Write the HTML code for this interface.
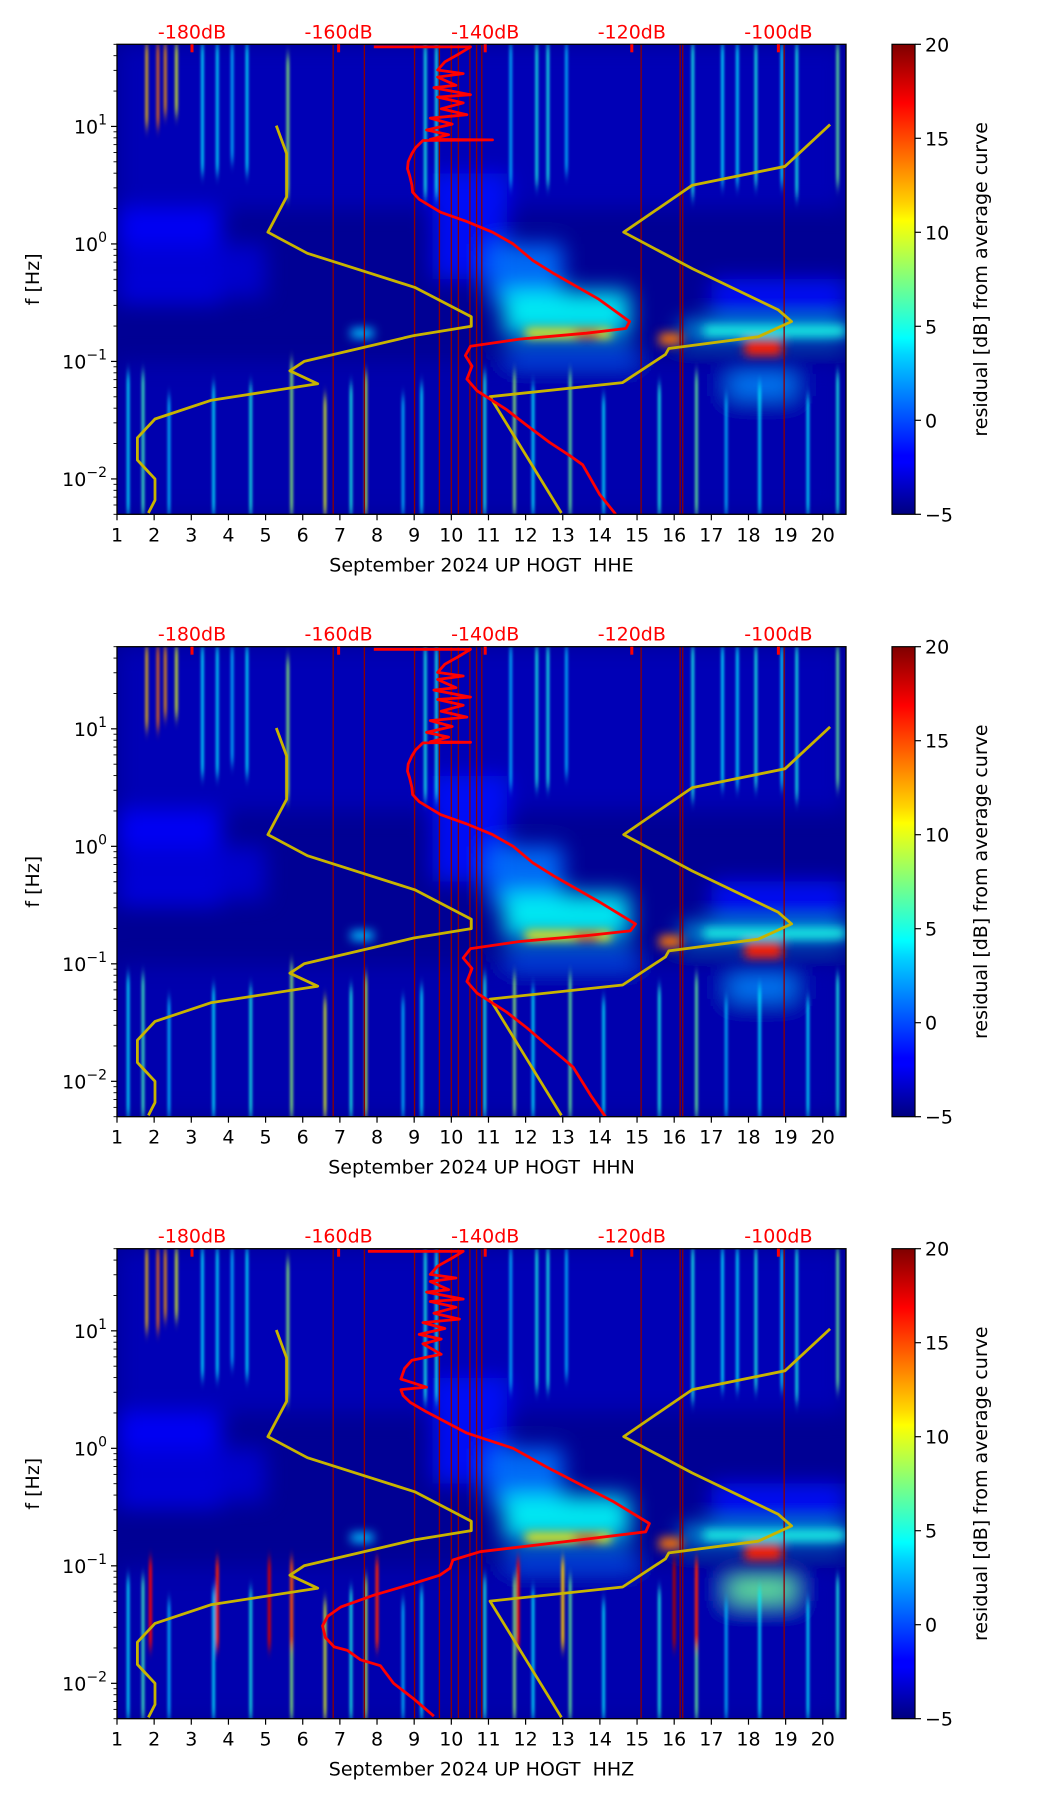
<!DOCTYPE html>
<html><head><meta charset="utf-8">
<style>
html,body{margin:0;padding:0;background:#fff;}
svg{display:block;font-family:"DejaVu Sans","Liberation Sans",sans-serif;}
</style></head>
<body>
<svg id="fig" width="1052" height="1806" viewBox="0 0 1052 1806" xmlns="http://www.w3.org/2000/svg">
<defs>
<filter id="blurBig" x="-50%" y="-50%" width="200%" height="200%"><feGaussianBlur stdDeviation="11"/></filter>
<filter id="blurMid" x="-50%" y="-50%" width="200%" height="200%"><feGaussianBlur stdDeviation="5"/></filter>
<filter id="blurSmall" x="-50%" y="-5%" width="200%" height="110%"><feGaussianBlur stdDeviation="1.2 6"/></filter>
<linearGradient id="jetGrad" x1="0" y1="1" x2="0" y2="0">
<stop offset="0" stop-color="#00007f"/><stop offset="0.11" stop-color="#0000ff"/>
<stop offset="0.125" stop-color="#0000ff"/><stop offset="0.34" stop-color="#00d4ff"/>
<stop offset="0.375" stop-color="#00ffff"/><stop offset="0.5" stop-color="#7fff7f"/>
<stop offset="0.625" stop-color="#ffff00"/><stop offset="0.66" stop-color="#ffd400"/>
<stop offset="0.875" stop-color="#ff0000"/><stop offset="1" stop-color="#7f0000"/>
</linearGradient>
</defs>
</svg>
<script>
// ---- data ----
const dayTicks=[1,2,3,4,5,6,7,8,9,10,11,12,13,14,15,16,17,18,19,20];
const decadeTicks=[-2,-1,0,1];
const cbTicks=[-5,0,5,10,15,20];
const dbLabels=[-180,-160,-140,-120,-100];
const channels=["HHE","HHN","HHZ"];
const nlnmDb=[-168.5,-167.1,-167.1,-169.65,-164.25,-149.6,-141.9,-141.9,-149.75,-164.7,-166.65,-162.85,-177.35,-185.05,-187.45,-187.45,-185.05,-185.05,-185.95];
const nlnmLogF=[1.007,0.77,0.40,0.10,-0.08,-0.37,-0.62,-0.70,-0.78,-1.00,-1.08,-1.19,-1.33,-1.49,-1.65,-1.84,-2.00,-2.18,-2.29];
const nhnmDb=[-92.95,-99.1,-111.75,-121.1,-111.75,-100.05,-98.2,-102.75,-114.95,-115.4,-121.25,-139.35,-129.6];
const nhnmLogF=[1.016,0.66,0.50,0.10,-0.21,-0.56,-0.66,-0.79,-0.89,-0.94,-1.18,-1.30,-2.29];
const redEDb=[-155.2,-142,-143.5,-145.5,-146.5,-143,-146.5,-144,-147,-142,-146.5,-143,-146,-142.5,-147.5,-144.5,-148,-145,-147.5,-139,-148.5,-149.5,-150,-150.5,-150.6,-150.3,-150,-149.9,-149,-146.1,-142.5,-139,-136.2,-133.5,-130.7,-124.5,-120.3,-120.8,-126.2,-135.3,-142,-142.7,-141.8,-142.5,-141.1,-137.1,-134.4,-131.2,-128.5,-126.7,-124.4,-122.2];
const redELogF=[1.677,1.677,1.62,1.55,1.48,1.45,1.42,1.35,1.33,1.27,1.25,1.2,1.15,1.10,1.07,1.02,0.97,0.93,0.89,0.885,0.88,0.82,0.77,0.70,0.64,0.58,0.5,0.44,0.38,0.27,0.19,0.10,0.0,-0.14,-0.25,-0.47,-0.66,-0.72,-0.76,-0.81,-0.87,-0.95,-1.04,-1.15,-1.25,-1.41,-1.54,-1.69,-1.80,-1.88,-2.13,-2.30];
const redNDb=[-155.2,-142,-143.5,-145.5,-146.5,-143,-146.5,-144,-147,-142,-146.5,-143,-146,-142.5,-147.5,-144.5,-148,-145,-147.5,-142,-148.5,-149.5,-150,-150.5,-150.6,-150.3,-150,-149.9,-149,-146.1,-142.5,-139,-136.2,-133.5,-130.7,-124.5,-119.5,-120.2,-126.2,-135.3,-142,-143,-141.8,-142.5,-141.1,-137.1,-134.4,-131.6,-129.5,-128,-125.5,-123.6];
const redNLogF=redELogF;
const redZDb=[-156,-143,-144.5,-146.5,-147.5,-144,-147.5,-145,-148,-143,-147.5,-144,-147,-143.5,-148.5,-145.5,-149,-146,-148.5,-146,-150,-151,-151.5,-148,-151.5,-151.2,-150.2,-148,-142.5,-136.2,-131.6,-122.6,-117.6,-118.1,-127.2,-140.7,-144.4,-144.8,-146.2,-149.8,-155.2,-159.7,-161.5,-162.2,-161.8,-160.6,-158.8,-157,-154.3,-152.5,-149.8,-147];
const redZLogF=[1.677,1.677,1.62,1.55,1.48,1.45,1.42,1.35,1.33,1.27,1.25,1.2,1.15,1.10,1.07,1.02,0.97,0.93,0.89,0.80,0.75,0.68,0.59,0.52,0.50,0.45,0.39,0.31,0.13,0.0,-0.16,-0.45,-0.64,-0.71,-0.78,-0.88,-0.95,-1.02,-1.08,-1.15,-1.25,-1.35,-1.43,-1.51,-1.61,-1.69,-1.72,-1.80,-1.85,-2.0,-2.13,-2.28];
const vlineDays=[6.82,7.66,9.01,9.68,10.0,10.19,10.5,10.68,10.82,15.11,16.16,16.23,18.96];
// spectrogram blobs (broad)
const blobDay0=[1,1,1,9.5,11,11.4,11.5,16.2,17,1,17.5];
const blobDay1=[20.62,3.8,5,11.5,13,14.8,15,20.62,20.62,20.62,19.2];
const blobLf0=[0.3,-0.5,-0.45,-0.3,-0.5,-0.78,-1.1,-0.8,-0.6,-2.3,-1.3];
const blobLf1=[1.7,0.3,0.0,0.6,0.0,-0.4,-0.9,-0.68,-0.3,-1.0,-1.1];
const blobVal=[-3.6,-1.8,-3,-1.5,1,4.5,0.5,4,-1.5,-3.8,1.5];
// spectrogram cores (sharper)
const coreDay0=[12,13.3,15.6,17.9,7.3,16.8];
const coreDay1=[14.3,14,16.2,18.9,7.9,20.6];
const coreLf0=[-0.8,-0.8,-0.86,-0.95,-0.8,-0.78];
const coreLf1=[-0.72,-0.74,-0.76,-0.82,-0.72,-0.7];
const coreVal=[11,16,14,16,3,5];
// vertical streaks
const streakDay=[1.8,2.1,2.3,2.6,3.3,3.7,4.1,4.5,5.6,9.3,9.6,11.6,12.3,12.6,13.1,16.5,17.3,17.7,18.2,18.9,19.3,20.4,1.3,1.7,2.4,3.6,4.6,5.7,6.6,7.3,7.7,8.7,9.2,10.9,11.7,12.2,13.2,14.1,15.6,16.6,17.4,18.3,19.6,20.4];
const streakLf0=[1.0,1.0,1.1,1.1,0.6,0.6,0.7,0.6,0.4,0.4,0.4,0.5,0.5,0.5,0.6,0.4,0.5,0.5,0.5,0.5,0.4,0.5,-2.3,-2.3,-2.3,-2.3,-2.3,-2.3,-2.3,-2.3,-2.3,-2.3,-2.3,-2.3,-2.3,-2.3,-2.3,-2.3,-2.3,-2.3,-2.3,-2.3,-2.3,-2.3];
const streakLf1=[1.7,1.7,1.7,1.7,1.7,1.7,1.7,1.7,1.6,1.7,1.7,1.7,1.7,1.7,1.7,1.7,1.7,1.7,1.7,1.7,1.7,1.7,-1.1,-1.1,-1.3,-1.2,-1.2,-1.0,-1.3,-1.2,-1.1,-1.3,-1.2,-1.1,-1.1,-1.2,-1.1,-1.3,-1.2,-1.1,-1.3,-1.2,-1.3,-1.1];
const streakVal=[12,14,13,10,4,4,3,4,8,5,5,3,5,5,3,5,4,4,5,4,5,7,4,6,3,4,5,8,10,5,9,3,4,5,8,4,7,4,5,7,3,4,4,5];
const zStreakDay=[1.9,3.7,5.1,5.7,8.0,11.8,16.0,16.6,13.0];
const zStreakVal=[17,16,18,15,16,17,19,16,12];

// ---- layout ----
const NS="http://www.w3.org/2000/svg";
const svg=document.getElementById("fig");
const AX_L=117, AX_R=846, AX_H=470, TOPS=[44.3,646.7,1248.7];
const LF_MAX=Math.log10(50), LF_MIN=Math.log10(0.005);
const CB_L=892, CB_R=915, FS=19;
function xDay(d){return AX_L+(d-1)*(AX_R-AX_L)/19.625;}
function xDb(db){return 192+(db+180)*7.33;}
function yLf(top,lf){return top+(LF_MAX-lf)/(LF_MAX-LF_MIN)*AX_H;}
function jet(v){const t=Math.max(0,Math.min(1,(v+5)/25));const c=x=>Math.round(255*Math.max(0,Math.min(1,1.5-Math.abs(4*t-x))));return `rgb(${c(3)},${c(2)},${c(1)})`;}
function mk(tag,attrs,parent){const e=document.createElementNS(NS,tag);for(const k in attrs)e.setAttribute(k,attrs[k]);(parent||svg).appendChild(e);return e;}
function txt(s,attrs,parent){const e=mk("text",attrs,parent);e.textContent=s;return e;}

channels.forEach((ch,pi)=>{
  const top=TOPS[pi];
  const g=mk("g",{});
  
  
  const clip=mk("clipPath",{id:"clip"+pi},g);
  mk("rect",{x:AX_L,y:top,width:AX_R-AX_L,height:AX_H},clip);
  const plot=mk("g",{"clip-path":`url(#clip${pi})`},g);
  
  
  mk("rect",{x:AX_L,y:top,width:AX_R-AX_L,height:AX_H,fill:jet(-4.5)},plot);
  const bg=mk("g",{filter:"url(#blurBig)"},plot);
  for(let i=0;i<blobVal.length;i++){
    let v=blobVal[i]; if(ch==="HHZ"&&i===10) v=7;
    const r=mk("rect",{x:xDay(blobDay0[i]),y:yLf(top,blobLf1[i]),width:xDay(blobDay1[i])-xDay(blobDay0[i]),height:yLf(top,blobLf0[i])-yLf(top,blobLf1[i]),fill:jet(v),opacity:0.9},bg);
    
    
  }
  const cg=mk("g",{filter:"url(#blurMid)"},plot);
  for(let i=0;i<coreVal.length;i++){
    const r=mk("rect",{x:xDay(coreDay0[i]),y:yLf(top,coreLf1[i]),width:xDay(coreDay1[i])-xDay(coreDay0[i]),height:yLf(top,coreLf0[i])-yLf(top,coreLf1[i]),fill:jet(coreVal[i])},cg);
    
    
  }
  const sg=mk("g",{filter:"url(#blurSmall)"},plot);
  for(let i=0;i<streakDay.length;i++){
    const r=mk("rect",{x:xDay(streakDay[i])-1.5,y:yLf(top,streakLf1[i]),width:3,height:yLf(top,streakLf0[i])-yLf(top,streakLf1[i]),fill:jet(streakVal[i]),opacity:0.8},sg);
    
    
  }
  if(ch==="HHZ"){
    for(let i=0;i<zStreakDay.length;i++){
      const r=mk("rect",{x:xDay(zStreakDay[i])-1.5,y:yLf(top,-0.95),width:3,height:yLf(top,-1.7)-yLf(top,-0.95),fill:jet(zStreakVal[i])},sg);
      
      
    }
  }
  vlineDays.forEach(d=>{
    const l=mk("line",{x1:xDay(d),x2:xDay(d),y1:top,y2:top+AX_H,stroke:"#8b0000","stroke-width":1.3},plot);
    
    
  });
  function curve(dbs,lfs,color,w,name){
    const pts=dbs.map((db,i)=>xDb(db).toFixed(1)+","+yLf(top,lfs[i]).toFixed(1)).join(" ");
    const p=mk("polyline",{points:pts,fill:"none",stroke:color,"stroke-width":w,"stroke-linejoin":"round"},plot);
    
    
  }
  curve(nlnmDb,nlnmLogF,"#c8b400",2.8,"nlnm-curve");
  curve(nhnmDb,nhnmLogF,"#c8b400",2.8,"nhnm-curve");
  const rd=ch==="HHE"?[redEDb,redELogF]:ch==="HHN"?[redNDb,redNLogF]:[redZDb,redZLogF];
  curve(rd[0],rd[1],"#ff0000",2.8,"average-psd-curve");
  const fr=mk("rect",{x:AX_L,y:top,width:AX_R-AX_L,height:AX_H,fill:"none",stroke:"#000","stroke-width":1.3},g);
  
  
  dayTicks.forEach(d=>{
    const x=xDay(d);
    mk("line",{x1:x,x2:x,y1:top+AX_H,y2:top+AX_H+6,stroke:"#000","stroke-width":1.2},g);
    const t=txt(String(d),{x:x,y:top+AX_H+27,"text-anchor":"middle","font-size":FS},g);
    
    
  });
  for(let k=-3;k<=1;k++){for(let m=1;m<=9;m++){
    const lf=k+Math.log10(m); if(lf<LF_MIN-1e-6||lf>LF_MAX+1e-6) continue;
    const y=yLf(top,lf);
    mk("line",{x1:AX_L-(m===1?6:3.5),x2:AX_L,y1:y,y2:y,stroke:"#000","stroke-width":m===1?1.2:0.9},g);
  }}
  decadeTicks.forEach(k=>{
    const y=yLf(top,k);
    const t=txt("",{x:AX_L-10,y:y+7,"text-anchor":"end","font-size":FS},g);
    
    
    const a=mk("tspan",{},t);a.textContent="10";
    const b=mk("tspan",{dy:-9,"font-size":14},t);b.textContent=(k<0?"\u2212":"")+Math.abs(k);
  });
  dbLabels.forEach(db=>{
    const x=xDb(db);
    const t=txt(db+"dB",{x:x,y:top-6,"text-anchor":"middle","font-size":FS,fill:"#ff0000"},g);
    
    
    mk("rect",{x:x-1.5,y:top,width:3,height:8,fill:"#ff0000"},g);
  });
  const xl=txt("September 2024 UP HOGT\u00a0\u00a0"+ch,{x:(AX_L+AX_R)/2,y:top+AX_H+57,"text-anchor":"middle","font-size":FS},g);
  
  
  const yl=txt("f [Hz]",{x:0,y:0,"text-anchor":"middle","font-size":FS,transform:`translate(39,${top+AX_H/2}) rotate(-90)`},g);
  
  
  const cb=mk("rect",{x:CB_L,y:top,width:CB_R-CB_L,height:AX_H,fill:"url(#jetGrad)",stroke:"#000","stroke-width":1.2},g);
  
  
  cbTicks.forEach(v=>{
    const y=top+AX_H-(v+5)/25*AX_H;
    mk("line",{x1:CB_R,x2:CB_R+6,y1:y,y2:y,stroke:"#000","stroke-width":1.2},g);
    const t=txt(v<0?"\u2212"+Math.abs(v):String(v),{x:CB_R+10,y:y+7,"font-size":FS},g);
    
    
  });
  const cl=txt("residual [dB] from average curve",{x:0,y:0,"text-anchor":"middle","font-size":FS,transform:`translate(987,${top+AX_H/2}) rotate(-90)`},g);
  
  
});
</script>
</body></html>
